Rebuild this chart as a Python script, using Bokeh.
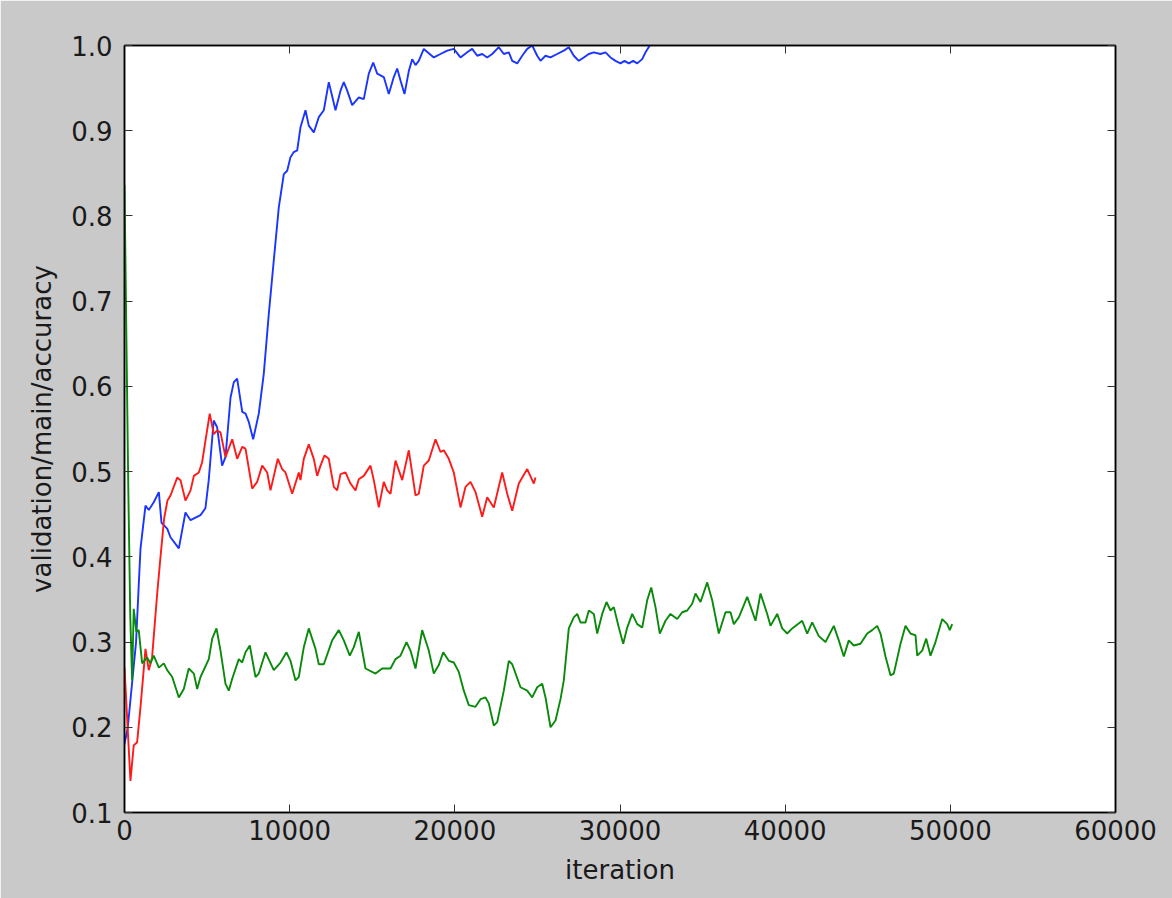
from bokeh.plotting import figure
from bokeh.models import Range1d, FixedTicker, LinearAxis
from bokeh.embed import file_html
from bokeh.resources import INLINE

# ---------------- data ----------------
blue_iter = [0, 200, 500, 700, 870, 970, 1270, 1470, 1770, 2080, 2240, 2585, 2785, 3290, 3690, 4000,
             4600, 4900, 5100, 5400, 5610, 5910, 6115, 6420, 6620, 6820, 7130, 7330, 7530, 7790, 8130,
             8434, 8737, 9039, 9342, 9645, 9851, 10050, 10250, 10456, 10656, 10959, 11158, 11461,
             11764, 12067, 12369, 12775, 13078, 13278, 13484, 13786, 14186, 14488, 14791, 15058,
             15300, 15699, 16002, 16305, 16510, 16710, 16953, 17213, 17419, 17619, 17818, 18121,
             18727, 19132, 19538, 19937, 20343, 20749, 21051, 21354, 21657, 21960, 22263, 22662,
             22965, 23268, 23474, 23776, 24079, 24382, 24685, 24987, 25187, 25490, 25793, 26198,
             26598, 26900, 27203, 27506, 27808, 28111, 28414, 28820, 29122, 29425, 29728, 30030,
             30273, 30533, 30799, 31042, 31344, 31544, 31804]
blue_acc = [0.18, 0.20, 0.26, 0.30, 0.37, 0.41, 0.46, 0.455, 0.464, 0.476, 0.44, 0.433, 0.423, 0.41,
            0.452, 0.443, 0.449, 0.457, 0.49, 0.56, 0.552, 0.507, 0.517, 0.587, 0.605, 0.609, 0.57,
            0.568, 0.558, 0.538, 0.568, 0.615, 0.685, 0.748, 0.810, 0.849, 0.853, 0.869, 0.875,
            0.877, 0.904, 0.924, 0.906, 0.898, 0.916, 0.924, 0.957, 0.924, 0.947, 0.957, 0.947,
            0.930, 0.939, 0.937, 0.967, 0.980, 0.967, 0.963, 0.943, 0.963, 0.973, 0.959, 0.943,
            0.970, 0.984, 0.977, 0.982, 0.996, 0.986, 0.990, 0.994, 0.996, 0.986, 0.992, 0.996,
            0.988, 0.990, 0.986, 0.990, 0.998, 0.990, 0.992, 0.982, 0.979, 0.988, 0.996, 1.0,
            0.988, 0.982, 0.988, 0.986, 0.990, 0.994, 0.998, 0.988, 0.982, 0.986, 0.990, 0.992,
            0.990, 0.992, 0.986, 0.982, 0.979, 0.982, 0.979, 0.982, 0.979, 0.984, 0.992, 1.0]

red_iter = [0, 360, 560, 760, 970, 1270, 1470, 1670, 1980, 2180, 2400, 2600, 2785, 3190, 3390, 3690,
            4000, 4200, 4500, 4700, 4900, 5160, 5407, 5600, 5812, 6115, 6521, 6824, 7126, 7326,
            7732, 8034, 8337, 8640, 8840, 9282, 9548, 9748, 10153, 10553, 10656, 10856, 11158,
            11461, 11667, 11867, 12109, 12369, 12672, 12878, 13078, 13380, 13683, 13986, 14186,
            14488, 14894, 15094, 15397, 15699, 15905, 16105, 16408, 16813, 17213, 17619, 17818,
            18121, 18424, 18830, 19132, 19332, 19635, 19937, 20343, 20646, 20949, 21251, 21657,
            21960, 22359, 22868, 23171, 23474, 23873, 24382, 24685, 24781, 24884]
red_acc = [0.27, 0.137, 0.179, 0.182, 0.224, 0.292, 0.267, 0.282, 0.357, 0.40, 0.445, 0.466, 0.472,
           0.493, 0.49, 0.466, 0.478, 0.495, 0.499, 0.511, 0.536, 0.568, 0.544, 0.548, 0.546,
           0.517, 0.538, 0.515, 0.529, 0.527, 0.480, 0.488, 0.507, 0.499, 0.478, 0.515, 0.503,
           0.499, 0.474, 0.499, 0.490, 0.515, 0.532, 0.515, 0.495, 0.507, 0.519, 0.515, 0.482,
           0.478, 0.497, 0.499, 0.486, 0.478, 0.491, 0.495, 0.507, 0.490, 0.458, 0.488, 0.478,
           0.474, 0.513, 0.490, 0.525, 0.472, 0.474, 0.507, 0.513, 0.538, 0.523, 0.525, 0.515,
           0.499, 0.458, 0.482, 0.488, 0.476, 0.447, 0.470, 0.458, 0.499, 0.474, 0.454, 0.486,
           0.503, 0.490, 0.486, 0.493]

green_iter = [0, 120, 230, 350, 460, 560, 720, 860, 1070, 1370, 1570, 1770, 2080, 2380, 2585, 2890,
              3290, 3590, 3890, 4200, 4400, 4601, 5104, 5310, 5570, 5812, 6115, 6315, 6521, 6920,
              7126, 7326, 7586, 7931, 8131, 8537, 9039, 9445, 9808, 10050, 10353, 10553, 10856,
              11158, 11564, 11764, 12067, 12575, 12975, 13278, 13641, 13883, 14186, 14591, 15197,
              15602, 16105, 16408, 16710, 17073, 17316, 17619, 18024, 18424, 18727, 19029, 19296,
              19635, 19937, 20240, 20543, 20846, 21251, 21554, 21857, 22056, 22359, 22565, 22965,
              23268, 23474, 23976, 24382, 24685, 24987, 25290, 25490, 25793, 26096, 26398, 26598,
              26900, 27203, 27409, 27609, 27912, 28111, 28414, 28620, 28923, 29183, 29425, 29625,
              29928, 30194, 30436, 30739, 31042, 31344, 31647, 31889, 32149, 32410, 32755, 33058,
              33463, 33766, 34069, 34371, 34571, 34874, 35280, 35582, 35982, 36388, 36691, 36891,
              37194, 37702, 38205, 38507, 38913, 39112, 39518, 39821, 40123, 40426, 41031, 41334,
              41637, 42036, 42442, 42945, 43247, 43550, 43853, 44155, 44561, 44967, 45269, 45572,
              45772, 46075, 46377, 46577, 46983, 47286, 47588, 47891, 47994, 48297, 48539, 48799,
              49102, 49507, 49810, 49967, 50112]
green_acc = [0.836, 0.65, 0.48, 0.33, 0.255, 0.339, 0.312, 0.314, 0.275, 0.282, 0.275, 0.284, 0.270,
             0.275, 0.267, 0.259, 0.235, 0.245, 0.269, 0.263, 0.245, 0.259, 0.280, 0.304, 0.316,
             0.290, 0.251, 0.243, 0.257, 0.280, 0.276, 0.288, 0.296, 0.259, 0.263, 0.288, 0.267,
             0.276, 0.288, 0.278, 0.255, 0.259, 0.294, 0.316, 0.292, 0.274, 0.274, 0.302, 0.314,
             0.302, 0.284, 0.294, 0.312, 0.269, 0.263, 0.269, 0.269, 0.280, 0.284, 0.300, 0.290,
             0.269, 0.314, 0.290, 0.263, 0.273, 0.288, 0.278, 0.276, 0.265, 0.243, 0.226, 0.224,
             0.233, 0.235, 0.228, 0.202, 0.206, 0.243, 0.278, 0.274, 0.247, 0.243, 0.235, 0.247,
             0.251, 0.235, 0.200, 0.208, 0.233, 0.255, 0.316, 0.329, 0.333, 0.323, 0.323, 0.337,
             0.333, 0.310, 0.333, 0.347, 0.337, 0.341, 0.317, 0.298, 0.317, 0.333, 0.321, 0.317,
             0.349, 0.364, 0.341, 0.310, 0.325, 0.333, 0.327, 0.335, 0.337, 0.345, 0.357, 0.347,
             0.370, 0.349, 0.310, 0.335, 0.335, 0.321, 0.329, 0.353, 0.325, 0.357, 0.333, 0.319,
             0.333, 0.316, 0.310, 0.316, 0.325, 0.310, 0.323, 0.307, 0.300, 0.319, 0.302, 0.283,
             0.302, 0.296, 0.298, 0.310, 0.314, 0.319, 0.310, 0.283, 0.261, 0.263, 0.298, 0.319,
             0.310, 0.308, 0.284, 0.290, 0.304, 0.284, 0.300, 0.327, 0.321, 0.314, 0.321]

x_ticks = [0, 10000, 20000, 30000, 40000, 50000, 60000]
x_tick_labels = ["0", "10000", "20000", "30000", "40000", "50000", "60000"]
y_ticks = [0.1, 0.2, 0.3, 0.4, 0.5, 0.6, 0.7, 0.8, 0.9, 1.0]
y_tick_labels = ["0.1", "0.2", "0.3", "0.4", "0.5", "0.6", "0.7", "0.8", "0.9", "1.0"]
x_title = "iteration"
y_title = "validation/main/accuracy"

# ---------------- figure ----------------
BG = "#c9c9c9"
FONT = "DejaVu Sans"
FS = "26px"

p = figure(width=1172, height=898, output_backend="svg", toolbar_location=None,
           x_range=Range1d(0, 60000), y_range=Range1d(0.1, 1.0),
           min_border_left=124, min_border_right=57, min_border_top=45, min_border_bottom=86,
           background_fill_color="white", border_fill_color=BG)
p.outline_line_color = "black"
p.outline_line_width = 1.5
p.grid.visible = False

p.line(blue_iter, blue_acc, line_color="#1a35ff", line_width=1.9)
p.line(red_iter, red_acc, line_color="#ff1a1a", line_width=1.9)
p.line(green_iter, green_acc, line_color="#0a8a0a", line_width=1.9)

xt = FixedTicker(ticks=x_ticks)
yt = FixedTicker(ticks=y_ticks)


def style(ax, ticker, labels, ticks, show):
    ax.ticker = ticker
    ax.axis_line_color = "black"
    ax.axis_line_width = 1.5
    ax.major_tick_in = 8
    ax.major_tick_out = 0
    ax.major_tick_line_color = "#333333"
    ax.major_tick_line_width = 1
    ax.minor_tick_line_color = None
    ax.major_label_text_font = FONT
    ax.axis_label_text_font = FONT
    ax.axis_label_text_font_style = "normal"
    ax.axis_label_text_color = "#1a1a1a"
    ax.major_label_text_font_size = FS
    ax.axis_label_text_font_size = FS
    if show:
        ax.major_label_overrides = {t: l for t, l in zip(ticks, labels)}
        ax.major_label_text_color = "#1a1a1a"
    else:
        ax.major_label_text_color = None
        ax.major_label_standoff = 0


xa = p.xaxis[0]
style(xa, xt, x_tick_labels, x_ticks, True)
xa.axis_label = x_title
xa.major_label_standoff = 7
xa.axis_label_standoff = 12

ya = p.yaxis[0]
style(ya, yt, y_tick_labels, y_ticks, True)
ya.axis_label = y_title
ya.major_label_standoff = 12
ya.axis_label_standoff = 11

top = LinearAxis()
style(top, xt, x_tick_labels, x_ticks, False)
p.add_layout(top, "above")
right = LinearAxis()
style(right, yt, y_tick_labels, y_ticks, False)
p.add_layout(right, "right")

open("out.html", "w").write(file_html(p, INLINE))
